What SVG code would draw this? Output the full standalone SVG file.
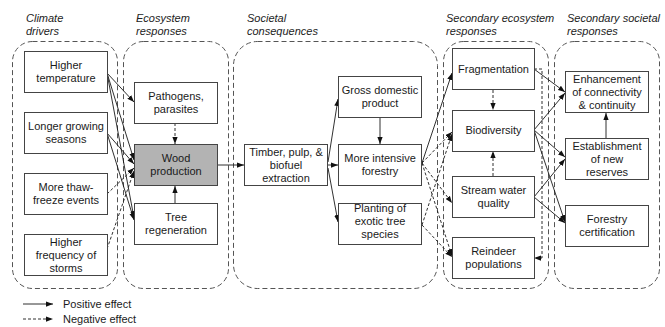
<svg xmlns="http://www.w3.org/2000/svg" width="665" height="327" viewBox="0 0 665 327">
<style>
.grp{fill:none;stroke:#555;stroke-width:1;stroke-dasharray:5,3}
.box{fill:#fff;stroke:#444;stroke-width:1}
.gray{fill:#b3b3b3}
text{font-family:"Liberation Sans",Arial,sans-serif;font-size:11px;fill:#1a1a1a}
.t{text-anchor:middle}
.ttl{font-style:italic;fill:#222}
.pos{fill:none;stroke:#1a1a1a;stroke-width:0.9;marker-end:url(#ah)}
.neg{fill:none;stroke:#1a1a1a;stroke-width:0.9;stroke-dasharray:3,2;marker-end:url(#ah)}
</style>
<defs>
<marker id="ah" viewBox="0 0 8 6" refX="8" refY="3" markerWidth="7" markerHeight="5.5" markerUnits="userSpaceOnUse" orient="auto">
<path d="M0,0 L8,3 L0,6 Z" fill="#111"/>
</marker>
</defs>
<rect width="665" height="327" fill="#fff"/>

<g id="groups">
<rect class="grp" x="12.5" y="41.5" width="105" height="247" rx="20"/>
<rect class="grp" x="123.5" y="41.5" width="105" height="247" rx="20"/>
<rect class="grp" x="233.5" y="41.5" width="204" height="247" rx="24"/>
<rect class="grp" x="443.5" y="41.5" width="105" height="247" rx="20"/>
<rect class="grp" x="554.5" y="41.5" width="105" height="247" rx="20"/>
</g>

<g id="titles">
<text class="ttl" x="26" y="22">Climate</text>
<text class="ttl" x="26" y="35">drivers</text>
<text class="ttl" x="136" y="22">Ecosystem</text>
<text class="ttl" x="136" y="35">responses</text>
<text class="ttl" x="247" y="22">Societal</text>
<text class="ttl" x="247" y="35">consequences</text>
<text class="ttl" x="446" y="22">Secondary ecosystem</text>
<text class="ttl" x="446" y="35">responses</text>
<text class="ttl" x="567" y="22">Secondary societal</text>
<text class="ttl" x="567" y="35">responses</text>
</g>

<g id="connectors">
<path class="pos" d="M107,73 L134,102"/>
<path class="pos" d="M107,73 L134,160"/>
<path class="pos" d="M107,73 L134,218"/>
<path class="pos" d="M107,133 L134,164"/>
<path class="pos" d="M107,133 L134,220"/>
<path class="neg" d="M107,194 L134,168"/>
<path class="neg" d="M107,249 L134,171"/>
<path class="neg" d="M175,123 L175,144"/>
<path class="pos" d="M175,203 L175,186"/>
<path class="pos" d="M217,165 L244,165"/>
<path class="pos" d="M328,162 L338,99"/>
<path class="pos" d="M328,165 L338,165"/>
<path class="pos" d="M328,168 L338,222"/>
<path class="pos" d="M380,118 L380,144"/>
<path class="pos" d="M422,163 L452,73"/>
<path class="neg" d="M422,163 L452,132"/>
<path class="neg" d="M422,163 L452,203"/>
<path class="neg" d="M422,163 L452,256"/>
<path class="neg" d="M422,225 L452,134"/>
<path class="neg" d="M422,225 L452,257"/>
<path class="neg" d="M493,90 L493,110"/>
<path class="neg" d="M493,176 L493,151"/>
<path class="neg" d="M534,69 L542,69 L542,258 L534,258"/>
<path class="pos" d="M534,69 L565,92"/>
<path class="pos" d="M534,130 L565,93"/>
<path class="pos" d="M534,130 L565,157"/>
<path class="pos" d="M534,130 L565,222"/>
<path class="pos" d="M534,197 L565,159"/>
<path class="pos" d="M534,197 L565,223"/>
<path class="pos" d="M606,138 L606,113"/>
</g>

<g id="n-higher-temperature">
<rect class="box" x="24.5" y="51.5" width="83" height="41"/>
<text class="t" x="66" y="69">Higher</text>
<text class="t" x="66" y="82">temperature</text>
</g>
<g id="n-longer-growing">
<rect class="box" x="24.5" y="112.5" width="83" height="41"/>
<text class="t" x="66" y="130">Longer growing</text>
<text class="t" x="66" y="143">seasons</text>
</g>
<g id="n-thaw-freeze">
<rect class="box" x="24.5" y="173.5" width="83" height="41"/>
<text class="t" x="66" y="191">More thaw-</text>
<text class="t" x="66" y="204">freeze events</text>
</g>
<g id="n-storms">
<rect class="box" x="24.5" y="234.5" width="83" height="41"/>
<text class="t" x="66" y="246">Higher</text>
<text class="t" x="66" y="259">frequency of</text>
<text class="t" x="66" y="272">storms</text>
</g>

<g id="n-pathogens">
<rect class="box" x="134.5" y="82.5" width="83" height="41"/>
<text class="t" x="176" y="100">Pathogens,</text>
<text class="t" x="176" y="113">parasites</text>
</g>
<g id="n-wood">
<rect class="box gray" x="134.5" y="144.5" width="83" height="41"/>
<text class="t" x="176" y="162">Wood</text>
<text class="t" x="176" y="175">production</text>
</g>
<g id="n-tree-regen">
<rect class="box" x="134.5" y="203.5" width="83" height="41"/>
<text class="t" x="176" y="221">Tree</text>
<text class="t" x="176" y="234">regeneration</text>
</g>

<g id="n-timber">
<rect class="box" x="244.5" y="144.5" width="83" height="41"/>
<text class="t" x="286" y="156">Timber, pulp, &amp;</text>
<text class="t" x="286" y="169">biofuel</text>
<text class="t" x="286" y="182">extraction</text>
</g>
<g id="n-gdp">
<rect class="box" x="338.5" y="76.5" width="83" height="41"/>
<text class="t" x="380" y="94">Gross domestic</text>
<text class="t" x="380" y="107">product</text>
</g>
<g id="n-intensive">
<rect class="box" x="338.5" y="144.5" width="83" height="41"/>
<text class="t" x="380" y="162">More intensive</text>
<text class="t" x="380" y="175">forestry</text>
</g>
<g id="n-planting">
<rect class="box" x="338.5" y="203.5" width="83" height="41"/>
<text class="t" x="380" y="212">Planting of</text>
<text class="t" x="380" y="225">exotic tree</text>
<text class="t" x="380" y="238">species</text>
</g>

<g id="n-fragmentation">
<rect class="box" x="452.5" y="48.5" width="82" height="41"/>
<text class="t" x="493.5" y="73">Fragmentation</text>
</g>
<g id="n-biodiversity">
<rect class="box" x="452.5" y="110.5" width="82" height="41"/>
<text class="t" x="493.5" y="134">Biodiversity</text>
</g>
<g id="n-stream">
<rect class="box" x="452.5" y="176.5" width="82" height="41"/>
<text class="t" x="493.5" y="194">Stream water</text>
<text class="t" x="493.5" y="207">quality</text>
</g>
<g id="n-reindeer">
<rect class="box" x="452.5" y="237.5" width="82" height="41"/>
<text class="t" x="493.5" y="255">Reindeer</text>
<text class="t" x="493.5" y="268">populations</text>
</g>

<g id="n-enhancement">
<rect class="box" x="565.5" y="71.5" width="83" height="41"/>
<text class="t" x="607" y="83">Enhancement</text>
<text class="t" x="607" y="96">of connectivity</text>
<text class="t" x="607" y="109">&amp; continuity</text>
</g>
<g id="n-reserves">
<rect class="box" x="565.5" y="138.5" width="83" height="41"/>
<text class="t" x="607" y="150">Establishment</text>
<text class="t" x="607" y="163">of new</text>
<text class="t" x="607" y="176">reserves</text>
</g>
<g id="n-certification">
<rect class="box" x="565.5" y="205.5" width="83" height="41"/>
<text class="t" x="607" y="223">Forestry</text>
<text class="t" x="607" y="236">certification</text>
</g>

<g id="legend">
<path class="pos" d="M23,304 L53,304"/>
<text x="63" y="308">Positive effect</text>
<path class="neg" d="M23,319 L53,319"/>
<text x="63" y="323">Negative effect</text>
</g>
</svg>
